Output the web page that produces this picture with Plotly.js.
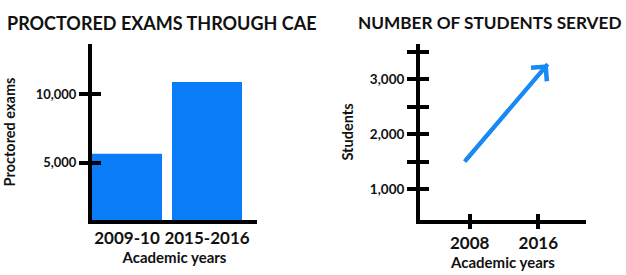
<!DOCTYPE html>
<html><head><meta charset="utf-8">
<script src="https://cdn.plot.ly/plotly-3.0.1.min.js"></script>
<style>html,body{margin:0;padding:0;background:#fff}#chart{width:626px;height:275px}</style>
</head><body><div id="chart"></div>
<script>
// Left chart: proctored exams
const examYears = ['2009-10', '2015-2016'];
const examCounts = [5650, 10900];
const examTickVals = [5000, 10000];
const examTickText = ['5,000', '10,000'];

// Right chart: number of students served (arrow from start to end)
const studentYears = [2007.4, 2017.1];
const studentCounts = [1500, 3280];
const studentYTickVals = [1000, 1500, 2000, 2500, 3000, 3500];
const studentYTickText = ['1,000', '', '2,000', '', '3,000', ''];
const studentXTickVals = [2008, 2016];
const studentXTickText = ['2008', '2016'];

const BLUE_BAR = '#0a7cf8';
const BLUE_LINE = '#1889f5';
const INK = '#111111';
const FONT = 'Lato, "Open Sans", sans-serif';
const W = 626, H = 275;

const leftX = [92 / W, 257 / W];
const rightX = [420 / W, 586 / W];
const yDom = [(H - 220) / H, (H - 44) / H];
const leftYRange = [811, 13677];
const rightYRange = [434, 3648];
const rightXRange = [2002.2, 2021.56];

const ghost = {type: 'scatter', mode: 'lines', line: {width: 0, color: 'rgba(0,0,0,0)'}, opacity: 0, hoverinfo: 'skip'};
const traces = [
  {type: 'bar', x: examYears, y: examCounts, xaxis: 'x', yaxis: 'y',
   marker: {color: BLUE_BAR}, hoverinfo: 'skip'},
  {type: 'scatter', mode: 'lines', x: studentYears, y: studentCounts, xaxis: 'x2', yaxis: 'y2',
   line: {color: BLUE_LINE, width: 4}, hoverinfo: 'skip'},
  // invisible carriers so the overlaid tick axes (inner half of the crossing ticks) are drawn
  Object.assign({}, ghost, {x: examYears, y: examCounts, xaxis: 'x', yaxis: 'y3'}),
  Object.assign({}, ghost, {x: studentYears, y: studentCounts, xaxis: 'x4', yaxis: 'y2'}),
  Object.assign({}, ghost, {x: studentYears, y: studentCounts, xaxis: 'x2', yaxis: 'y4'})
];

const tickFont = {family: FONT, size: 17, weight: 700, color: INK};
const leftYTickFont = {family: FONT, size: 13, weight: 700, color: INK};
const rightYTickFont = {family: FONT, size: 13.5, weight: 700, color: INK};
const xTitleFont = {family: FONT, size: 15, weight: 700, color: INK};
const yTitleFont = {family: FONT, size: 14.5, weight: 700, color: INK};
const baseAxis = {showgrid: false, zeroline: false, fixedrange: true, linecolor: '#000', linewidth: 4,
  tickcolor: '#000', tickwidth: 4};

const layout = {
  width: W, height: H,
  margin: {l: 0, r: 0, t: 0, b: 0, pad: 0},
  paper_bgcolor: '#fff', plot_bgcolor: '#fff',
  showlegend: false, bargap: 0.125,
  font: {family: FONT, color: INK},
  xaxis: Object.assign({}, baseAxis, {domain: leftX, anchor: 'y', type: 'category', range: [-0.4375, 1.625],
    showline: true, ticks: '', tickfont: tickFont,
    title: {text: 'Academic years', font: xTitleFont, standoff: 3}}),
  yaxis: Object.assign({}, baseAxis, {domain: yDom, anchor: 'x', range: leftYRange, showline: true,
    tickmode: 'array', tickvals: examTickVals, ticktext: examTickText, ticks: 'outside', ticklen: 9,
    tickfont: leftYTickFont, title: {text: 'Proctored exams', font: yTitleFont, standoff: 18}}),
  yaxis3: Object.assign({}, baseAxis, {overlaying: 'y', anchor: 'x', side: 'left', range: leftYRange,
    showline: false, tickmode: 'array', tickvals: examTickVals, ticks: 'inside', ticklen: 9,
    showticklabels: false}),
  xaxis2: Object.assign({}, baseAxis, {domain: rightX, anchor: 'y2', range: rightXRange, showline: true,
    tickmode: 'array', tickvals: studentXTickVals, ticktext: studentXTickText, ticks: 'outside', ticklen: 5,
    tickfont: tickFont, title: {text: 'Academic years', font: xTitleFont, standoff: 3}}),
  xaxis4: Object.assign({}, baseAxis, {overlaying: 'x2', anchor: 'y2', side: 'bottom', range: rightXRange,
    showline: false, tickmode: 'array', tickvals: studentXTickVals, ticks: 'inside', ticklen: 6,
    showticklabels: false}),
  yaxis2: Object.assign({}, baseAxis, {domain: yDom, anchor: 'x2', range: rightYRange, showline: true,
    tickmode: 'array', tickvals: studentYTickVals, ticktext: studentYTickText, ticks: 'outside', ticklen: 9,
    tickfont: rightYTickFont, title: {text: 'Students', font: yTitleFont, standoff: 14}}),
  yaxis4: Object.assign({}, baseAxis, {overlaying: 'y2', anchor: 'x2', side: 'left', range: rightYRange,
    showline: false, tickmode: 'array', tickvals: studentYTickVals, ticks: 'inside', ticklen: 9,
    showticklabels: false}),
  annotations: [
    {xref: 'paper', yref: 'paper', x: 5 / W, y: (H - 23) / H, xanchor: 'left', yanchor: 'middle',
     text: 'PROCTORED EXAMS THROUGH CAE', showarrow: false,
     font: {family: FONT, size: 18, weight: 700, color: INK}},
    {xref: 'paper', yref: 'paper', x: 356 / W, y: (H - 23) / H, xanchor: 'left', yanchor: 'middle',
     text: 'NUMBER OF STUDENTS SERVED', showarrow: false,
     font: {family: FONT, size: 17.2, weight: 700, color: INK}},
    {xref: 'x2', yref: 'y2', axref: 'x2', ayref: 'y2',
     x: studentYears[1], y: studentCounts[1], ax: studentYears[0], ay: studentCounts[0],
     text: '', showarrow: true, arrowhead: 4, arrowsize: 1, arrowwidth: 4, arrowcolor: BLUE_LINE, standoff: 0}
  ]
};

Plotly.newPlot('chart', traces, layout, {displayModeBar: false, staticPlot: true});
</script>
</body></html>
